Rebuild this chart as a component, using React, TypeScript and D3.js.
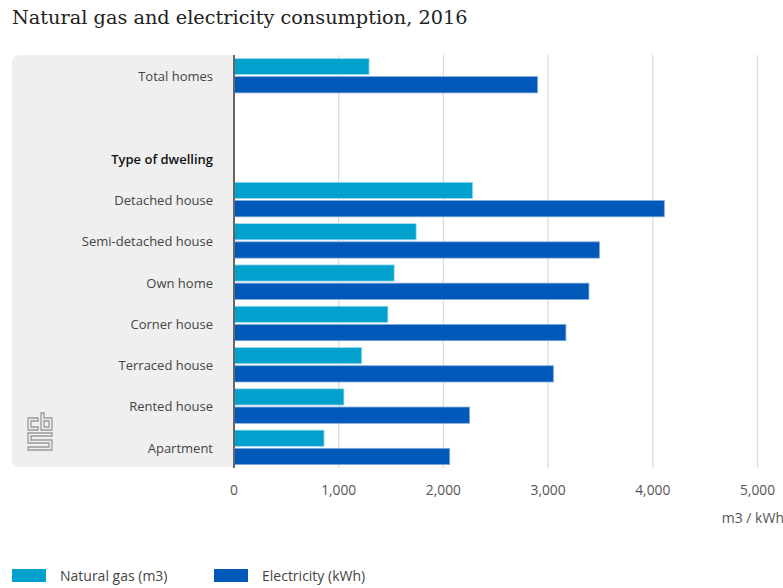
import React from "react";
import * as d3 from "d3";

const categories = [
  "Total homes",
  "",
  "Type of dwelling",
  "Detached house",
  "Semi-detached house",
  "Own home",
  "Corner house",
  "Terraced house",
  "Rented house",
  "Apartment",
];
const gasValues: (number | null)[] = [1290, null, null, 2280, 1740, 1530, 1470, 1220, 1050, 860];
const elecValues: (number | null)[] = [2900, null, null, 4110, 3490, 3390, 3170, 3050, 2250, 2060];
const xTicks = [0, 1000, 2000, 3000, 4000, 5000];
const seriesNames = ["Natural gas (m3)", "Electricity (kWh)"];
const title = "Natural gas and electricity consumption, 2016";
const unitLabel = "m3 / kWh";

const W = 783;
const H = 588;
const GAS = "#00a1cd";
const ELEC = "#0058b8";
const FONT = "'Open Sans', 'Noto Sans', sans-serif";

export default function App() {
  const left = 234;
  const top = 55;
  const bottom = 468;
  const x = d3.scaleLinear().domain([0, 5000]).range([left, left + 523.5]);
  const y = d3.scaleBand<string>().domain(categories.map((c, i) => i + "")).range([top, bottom]);
  const step = y.step();
  const pad = 3.4;
  const barH = (step - 2 * pad - 2) / 2;
  const fmt = d3.format(",");

  return (
    <svg width={W} height={H} style={{ position: "absolute", left: 0, top: 0, background: "#fff" }}>
      <text x={12} y={24} fontFamily="'DejaVu Serif', serif" fontSize={19.3} fill="#222">
        {title}
      </text>
      <path
        d={`M${left},${top} H20 Q12,${top} 12,${top + 8} V${bottom - 9} Q12,${bottom - 1} 20,${bottom - 1} H${left} Z`}
        fill="#efefef"
      />
      {xTicks.map((t) => (
        <line key={t} x1={x(t)} x2={x(t)} y1={top} y2={bottom} stroke="#dcdcdc" strokeWidth={1.3} />
      ))}
      {categories.map((c, i) => {
        const y0 = y(i + "")!;
        const g = gasValues[i];
        const e = elecValues[i];
        const bold = c === "Type of dwelling";
        return (
          <g key={i}>
            <text
              x={213}
              y={y0 + step / 2 + 0.8}
              dy="0.35em"
              textAnchor="end"
              fontFamily={FONT}
              fontSize={13}
              fill={bold ? "#111" : "#444"}
              fontWeight={bold ? 600 : 400}
            >
              {c}
            </text>
            {g != null && (
              <rect
                x={x(0)}
                y={y0 + pad}
                width={x(g) - x(0)}
                height={barH}
                fill={GAS}
                stroke="#a8dcef"
                strokeWidth={0.8}
              />
            )}
            {e != null && (
              <rect
                x={x(0)}
                y={y0 + pad + barH + 2}
                width={x(e) - x(0)}
                height={barH}
                fill={ELEC}
                stroke="#7fa9dd"
                strokeWidth={0.8}
              />
            )}
          </g>
        );
      })}
      <line x1={left} x2={left} y1={top} y2={bottom} stroke="#666" strokeWidth={2} />
      {xTicks.map((t) => (
        <text
          key={"l" + t}
          x={x(t)}
          y={495}
          textAnchor="middle"
          fontFamily={FONT}
          fontSize={13.8}
          fill="#555"
        >
          {fmt(t)}
        </text>
      ))}
      <text x={784} y={523} textAnchor="end" fontFamily={FONT} fontSize={14} fill="#555">
        {unitLabel}
      </text>
      <g fill="none" stroke="#9a9a9a" strokeWidth={1.3}>
        <path d="M28,418 V430 H38 V427 H31 V421 H38 V418 Z" />
        <path d="M41,413 V430 H52 V418 H44 V413 Z M44,421 H49 V427 H44 Z" />
        <path d="M28,433 H52 V436 H31 V440 H52 V450 H28 V447 H49 V443 H28 Z" />
      </g>
      {seriesNames.map((s, i) => {
        const lx = i === 0 ? 12 : 214;
        return (
          <g key={s}>
            <rect x={lx} y={569} width={34} height={13} fill={i === 0 ? GAS : ELEC} />
            <text x={lx + 48} y={581} fontFamily={FONT} fontSize={14} fill="#444">
              {s}
            </text>
          </g>
        );
      })}
    </svg>
  );
}
